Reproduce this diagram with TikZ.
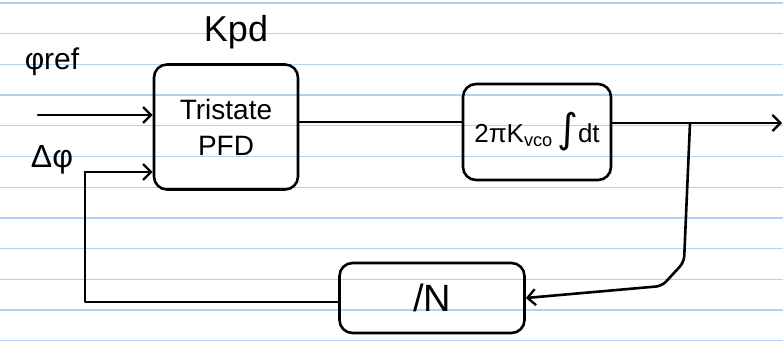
\documentclass[tikz,border=0pt]{standalone}
\usepackage{fontspec}
\setmainfont{Liberation Sans}
\newfontfamily\symfont{DejaVu Sans}
\usetikzlibrary{arrows.meta}
\begin{document}
\begin{tikzpicture}[x=1pt,y=-1pt,
  ink/.style={line width=2.6pt, black, line cap=round, line join=round},
  blockbox/.style={ink, draw, rounded corners=13pt, inner sep=0pt},
  sig/.style={ink, -{Straight Barb[length=8pt,width=16pt,line width=2.3pt]}},
  wire/.style={ink},
  hand/.style={inner sep=0pt},
  rule/.style={line width=1.3pt, draw={rgb,255:red,178;green,210;blue,245}}]
  % page
  \useasboundingbox (0,0) rectangle (783,343);
  \fill[white] (0,0) rectangle (783,343);
  % ruled paper
  \foreach \k in {0,...,11}
    \draw[rule] (0,{3+30.7*\k}) -- (783,{3+30.7*\k});

  % blocks
  \node[blockbox, minimum width=144pt, minimum height=125pt,
        align=center, font=\fontsize{28}{36}\selectfont] (pfd) at (226,127)
        {Tristate\\PFD};
  \node[blockbox, minimum width=148pt, minimum height=96pt,
        font=\fontsize{26}{28}\selectfont] (vco) at (537,132)
        {2πK\textsubscript{vco}\,{\symfont\fontsize{40}{40}\selectfont∫}dt};
  \node[blockbox, minimum width=185pt, minimum height=70pt,
        font=\fontsize{38}{40}\selectfont] (div) at (432,298) {/N};

  % labels
  \node[hand, font=\fontsize{36}{38}\selectfont] (kpd) at (236,32) {Kpd};
  \node[hand, font=\fontsize{30}{32}\selectfont] (ref) at (52,62) {φref};
  \node[hand, font=\fontsize{32}{34}\selectfont] (dphi) at (52,160) {Δφ};

  % coordinates of free ends and bends
  \coordinate (inref) at (38,115);
  \coordinate (fbtop) at (85,172);
  \coordinate (fbbot) at (85,302);
  \coordinate (outend) at (782,123);
  \coordinate (tap) at (690,123);
  \coordinate (tapdn) at (684,262);
  \coordinate (tapbend) at (662,286);

  % signal paths
  \draw[sig] (inref) -- (pfd.west |- inref);
  \draw[sig] (fbtop) -- (pfd.west |- fbtop);
  \draw[wire] (pfd.east |- 0,122) -- (vco.west |- 0,122);
  \draw[sig] (vco.east |- outend) -- (outend);
  \draw[wire] (div.west |- fbbot) -- (fbbot) -- (fbtop);
  \draw[sig, rounded corners=6pt] (tap) -- (tapdn) -- (tapbend) -- (div.east |- 0,298);
\end{tikzpicture}
\end{document}
